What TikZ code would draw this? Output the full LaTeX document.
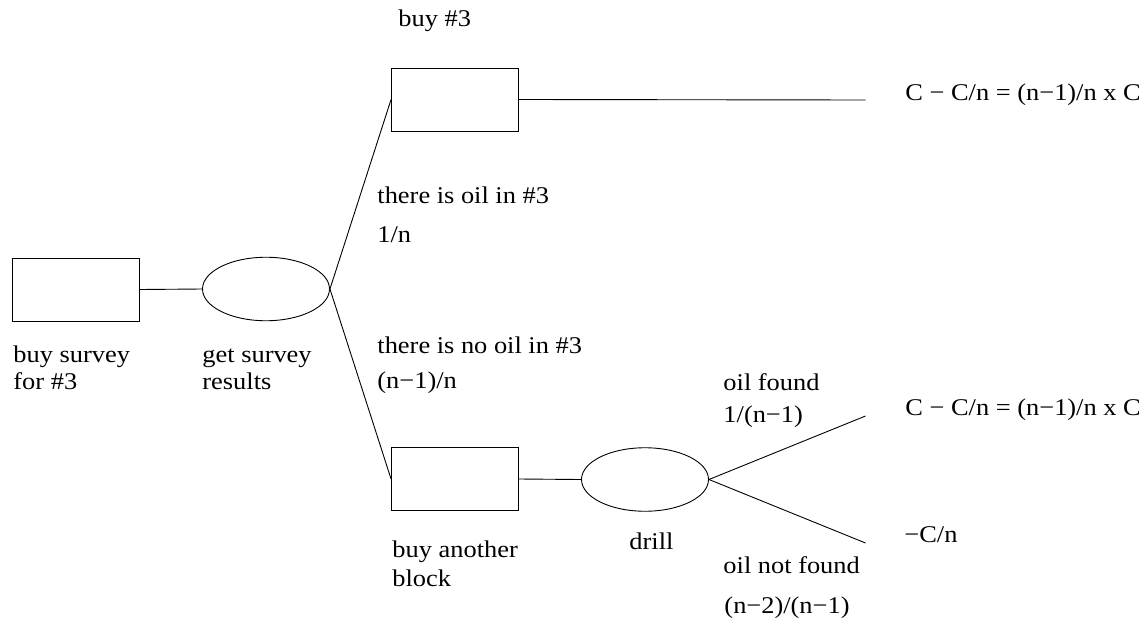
\documentclass[tikz,border=0pt]{standalone}
\usepackage{fontspec}
\setmainfont{Liberation Serif}[FakeStretch=1.1]
\usetikzlibrary{shapes.geometric}
\begin{document}
\begin{tikzpicture}[x=1pt,y=-1pt,
  every path/.style={line width=0.9pt},
  boxnode/.style={draw,rectangle,minimum width=127pt,minimum height=63pt,inner sep=0pt},
  ovalnode/.style={draw,ellipse,minimum width=127pt,minimum height=63.5pt,inner sep=0pt},
  lbl/.style={anchor=base west,inner sep=0pt,font=\fontsize{24}{28}\selectfont}]
\useasboundingbox (0,0) rectangle (1139,626);
% decision / chance nodes
\node[boxnode] (r1) at (76,289.5) {};
\node[ovalnode] (e1) at (266,289) {};
\node[boxnode] (r2) at (455,99.5) {};
\node[boxnode] (r3) at (455,479) {};
\node[ovalnode] (e2) at (645,479.5) {};
\coordinate (end1) at (865.5,100);
\coordinate (end2) at (865.5,416);
\coordinate (end3) at (865.5,543);
% connectors
\draw (r1.east) -- (e1.west);
\draw (e1.east) -- (r2.west);
\draw (e1.east) -- (r3.west);
\draw (r2.east) -- (end1);
\draw (r3.east) -- (e2.west);
\draw (e2.east) -- (end2);
\draw (e2.east) -- (end3);
% labels
\node[lbl] (t1) at (398,27) {buy \#3};
\node[lbl] (t2) at (377,203) {there is oil in \#3};
\node[lbl] (t3) at (377,242) {1/n};
\node[lbl] (t4) at (377,353) {there is no oil in \#3};
\node[lbl] (t5) at (377,388) {(n−1)/n};
\node[lbl] (t6) at (13,362) {buy survey};
\node[lbl] (t7) at (13,389) {for \#3};
\node[lbl] (t8) at (202,362) {get survey};
\node[lbl] (t9) at (202,389) {results};
\node[lbl] (t10) at (392,557) {buy another};
\node[lbl] (t11) at (392,586) {block};
\node[lbl] (t12) at (629,549) {drill};
\node[lbl] (t13) at (723,390) {oil found};
\node[lbl] (t14) at (723,422) {1/(n−1)};
\node[lbl] (t15) at (723,573) {oil not found};
\node[lbl] (t16) at (724,613) {(n−2)/(n−1)};
\node[lbl] (v1) at (905,100) {C − C/n = (n−1)/n x C};
\node[lbl] (v2) at (905,415) {C − C/n = (n−1)/n x C};
\node[lbl] (v3) at (904,542) {−C/n};
\end{tikzpicture}
\end{document}
